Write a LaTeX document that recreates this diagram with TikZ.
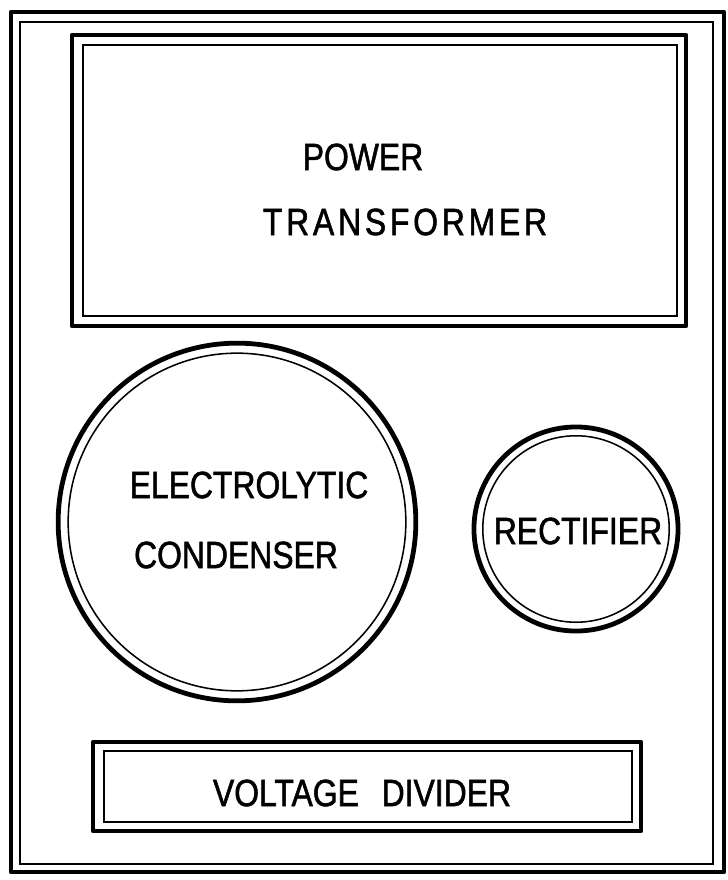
\documentclass[tikz,border=0pt]{standalone}
\usepackage{fontspec}
\newfontfamily\letterfont[FakeStretch=0.84, FakeBold=1.4]{Liberation Sans}
\usepackage{tikz}
\usetikzlibrary{positioning}
\tikzset{
  heavy/.style={line width=3.4pt, line join=round},
  light/.style={line width=1.1pt},
  letters/.style={font=\letterfont\fontsize{27}{32}\selectfont, inner sep=0pt},
}

\begin{document}
\begin{tikzpicture}[x=0.025cm, y=-0.025cm]
\useasboundingbox (0,0) rectangle (728,880);
% chassis outline
\draw[heavy] (11,12) rectangle (724,872);
\draw[light] (20,22) rectangle (713,864);

% power transformer
\draw[heavy] (72,35) rectangle (686,326);
\draw[light] (83,45) rectangle (677,316);
\node[letters] (pwr) at (363,157) {POWER};
\node[letters, font=\letterfont\fontsize{27}{32}\selectfont\addfontfeatures{LetterSpace=10}] (xfmr) at (405,222) {TRANSFORMER};

% condenser and rectifier cans
\coordinate (cond) at (237,522);
\draw[heavy] (cond) circle[radius=4.47cm];
\draw[light] (cond) circle[radius=4.22cm];
\node[letters] (elec) at (249,485) {ELECTROLYTIC};
\node[letters] (cdsr) at (236,555) {CONDENSER};

\coordinate (rect) at (576,529);
\draw[heavy] (rect) circle[radius=2.55cm];
\draw[light] (rect) circle[radius=2.33cm];
\node[letters] (rctf) at (578,531) {RECTIFIER};

% voltage divider
\draw[heavy] (93,742) rectangle (641,831);
\draw[light] (104,751) rectangle (632,822);
\node[letters] (vdiv) at (362,793) {VOLTAGE\hspace{0.6em}DIVIDER};
\end{tikzpicture}
\end{document}
